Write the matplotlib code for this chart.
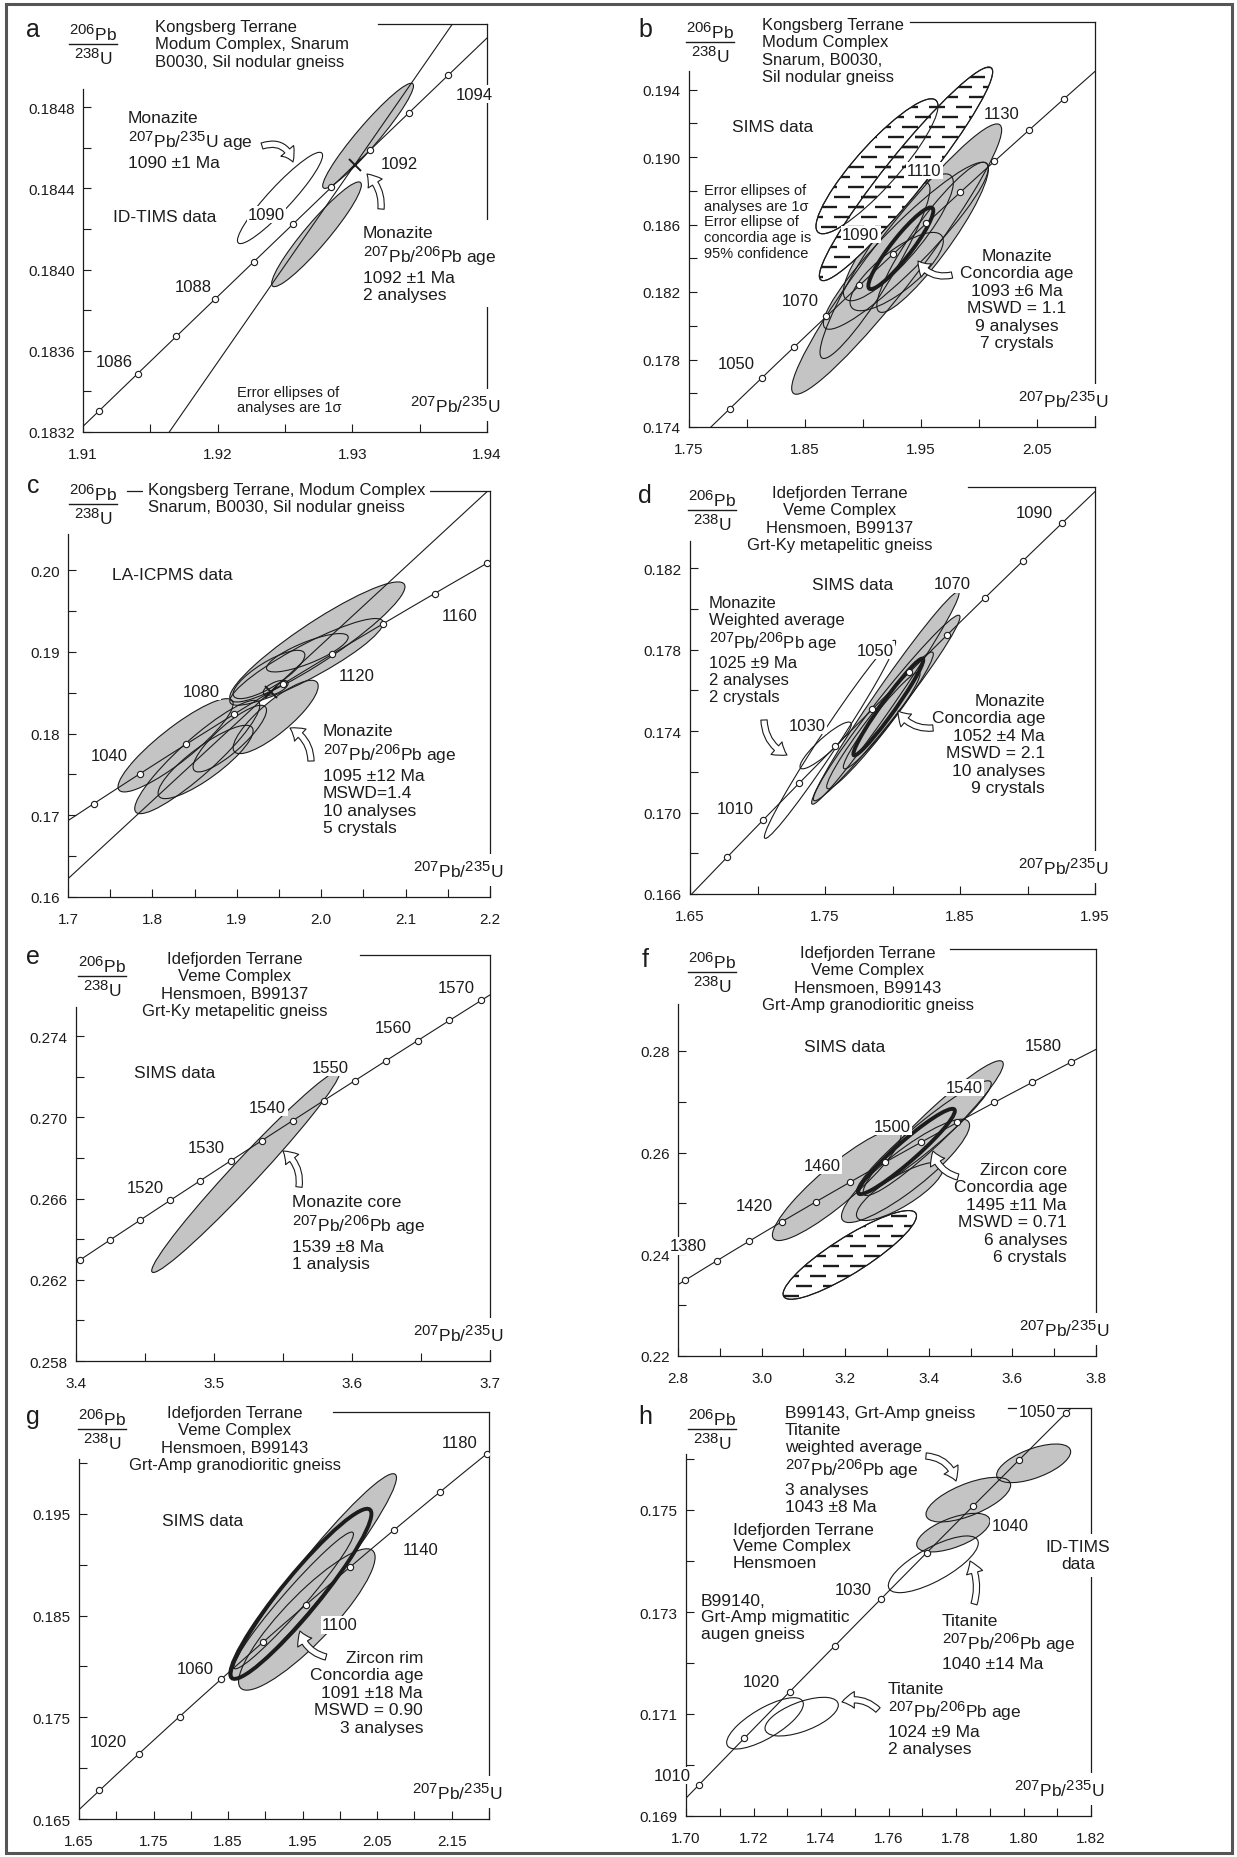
import numpy as np
import matplotlib
matplotlib.use("Agg")
import matplotlib.pyplot as plt
import matplotlib._mathtext as mathtext_internal
from matplotlib.patches import Circle, FancyArrowPatch, Rectangle
from matplotlib.transforms import Affine2D, IdentityTransform
from matplotlib.collections import LineCollection
from matplotlib.lines import Line2D
from matplotlib.ticker import FixedLocator, FormatStrFormatter

plt.rcParams['font.family'] = ['Liberation Sans', 'DejaVu Sans']
plt.rcParams['mathtext.fontset'] = 'custom'
plt.rcParams['mathtext.rm'] = 'Liberation Sans'
plt.rcParams['mathtext.it'] = 'Liberation Sans:italic'
plt.rcParams['mathtext.bf'] = 'Liberation Sans:bold'
# mass numbers are set nearly full size in the figure
mathtext_internal.SHRINK_FACTOR = 0.86

W, H = 1237, 1858
GREY = '#c4c4c4'
INK = '#1c1c1c'

# decay constants (1/yr)
L238 = 1.55125e-10
L235 = 9.8485e-10

P206 = r'$^{206}$Pb'
U238 = r'$^{238}$U'
XLAB = r'$^{207}$Pb/$^{235}$U'
PBPB = r'$^{207}$Pb/$^{206}$Pb age'

# ellipses: (207Pb/235U, 206Pb/238U, half-width x, half-width y, rho)

# a  ID-TIMS monazite
a_marks = [1085, 1086, 1087, 1088, 1089, 1090, 1091, 1092, 1093, 1094]
a_labels = [1086, 1088, 1090, 1092, 1094]
a_offs = [(-23, 12), (-22, 13), (-26, 10), (29, -14), (26, -19)]
a_grey = [(1.93117, 0.184659, 0.00337, 0.000259, 0.95),
          (1.92734, 0.184174, 0.00333, 0.000258, 0.94)]
a_open = [(1.92463, 0.184353, 0.00316, 0.000225, 0.93)]
a_pbpb = 1091.6

# b  SIMS monazite
b_marks = [1040, 1050, 1060, 1070, 1080, 1090, 1100, 1110, 1120, 1130, 1140]
b_labels = [1050, 1070, 1090, 1110, 1130]
b_offs = [(-25, 15), (-26, 16), (-32, 20), (-36, 22), (-27, 17)]
b_grey = [(1.92902, 0.18395, 0.0905, 0.00801, 0.955),
          (1.93693, 0.18474, 0.0711, 0.00495, 0.93),
          (1.96000, 0.18524, 0.0481, 0.00445, 0.91),
          (1.93046, 0.18524, 0.0474, 0.00376, 0.86),
          (1.92902, 0.18321, 0.0402, 0.00232, 0.78),
          (1.91034, 0.18326, 0.0474, 0.00520, 0.93)]
b_hatch = [(1.91207, 0.18945, 0.0526, 0.00400, 0.89),
           (1.93707, 0.18900, 0.0747, 0.00633, 0.955)]
b_bold = [(1.93261, 0.18459, 0.0280, 0.00242, 0.92)]

# c  LA-ICPMS monazite
c_marks = [1020, 1040, 1060, 1080, 1100, 1120, 1140, 1160, 1180]
c_labels = [1040, 1080, 1120, 1160]
c_offs = [(-30, 18), (-33, 23), (24, -21), (25, -22)]
c_grey = [(1.82747, 0.17857, 0.0682, 0.00571, 0.89),
          (1.85316, 0.17714, 0.0741, 0.00694, 0.91),
          (1.86304, 0.17653, 0.0563, 0.00449, 0.85),
          (1.99545, 0.19122, 0.1038, 0.00735, 0.92),
          (1.94605, 0.18204, 0.0504, 0.00449, 0.84),
          (1.98360, 0.18990, 0.0484, 0.00235, 0.80),
          (1.93814, 0.18724, 0.0425, 0.00296, 0.80),
          (1.94605, 0.18561, 0.0148, 0.00092, 0.60),
          (1.98261, 0.18878, 0.0909, 0.00531, 0.90),
          (1.89170, 0.17939, 0.0435, 0.00408, 0.85)]
c_pbpb = 1095

# d  SIMS monazite, B99137
d_marks = [1000, 1010, 1020, 1030, 1040, 1050, 1060, 1070, 1080, 1090]
d_labels = [1010, 1030, 1050, 1070, 1090]
d_offs = [(-28, 12), (-28, 21), (-34, 22), (-33, 14), (-28, 11)]
d_grey = [(1.79469, 0.17563, 0.0546, 0.00522, 0.985),
          (1.79568, 0.17514, 0.0543, 0.00456, 0.98),
          (1.79074, 0.17453, 0.0395, 0.00336, 0.97),
          (1.79198, 0.17453, 0.0284, 0.00238, 0.96)]
d_open = [(1.75370, 0.17360, 0.0486, 0.00487, 0.985),
          (1.75049, 0.17330, 0.0190, 0.00115, 0.90)]
d_bold = [(1.79691, 0.17519, 0.0259, 0.00238, 0.97)]

# e  SIMS monazite core
e_marks = [1505, 1510, 1515, 1520, 1525, 1530, 1535, 1540, 1545, 1550,
           1555, 1560, 1565, 1570]
e_labels = [1520, 1530, 1540, 1550, 1560, 1570]
e_offs = [(-25, 13)] * 6
e_grey = [(3.52295, 0.26732, 0.0681, 0.00496, 0.982)]

# f  SIMS zircon core, B99143
f_marks = [1360, 1380, 1400, 1420, 1440, 1460, 1480, 1500, 1520, 1540,
           1560, 1580]
f_labels = [1380, 1420, 1460, 1500, 1540, 1580]
f_offs = [(-28, 15), (-28, 16), (-28, 17), (-29, 16), (-30, 15), (-28, 17)]
f_grey = [(3.17989, 0.25364, 0.1540, 0.01095, 0.90),
          (3.34431, 0.25639, 0.1532, 0.01016, 0.88),
          (3.41053, 0.26479, 0.1676, 0.01325, 0.95),
          (3.38818, 0.26295, 0.1612, 0.01115, 0.95),
          (3.33072, 0.25233, 0.1038, 0.00571, 0.80)]
f_hatch = [(3.21101, 0.23987, 0.1596, 0.00872, 0.88)]
f_bold = [(3.34668, 0.26020, 0.1157, 0.00839, 0.95)]

# g  SIMS zircon rim
g_marks = [1000, 1020, 1040, 1060, 1080, 1100, 1120, 1140, 1160, 1180]
g_labels = [1020, 1060, 1100, 1140, 1180]
g_offs = [(-31, 12), (-26, 11), (34, -20), (26, -20), (-27, 12)]
g_grey = [(1.96546, 0.18887, 0.1104, 0.01007, 0.96),
          (1.95563, 0.18461, 0.0916, 0.00695, 0.88),
          (1.93776, 0.18648, 0.0804, 0.00672, 0.97)]
g_bold = [(1.94758, 0.18713, 0.0947, 0.00836, 0.94)]

# h  ID-TIMS titanite
h_marks = [1010, 1015, 1020, 1025, 1030, 1035, 1040, 1045, 1050]
h_labels = [1010, 1020, 1030, 1040, 1050]
h_offs = [(-27, 9), (-28, 10), (-27, 10), (37, -19), (-29, 2)]
h_grey = [(1.77921, 0.174556, 0.01086, 0.000379, 0.60),
          (1.78365, 0.175203, 0.01254, 0.000438, 0.65),
          (1.80301, 0.175915, 0.01096, 0.000379, 0.60)]
h_open = [(1.72341, 0.170817, 0.01136, 0.000503, 0.75),
          (1.73427, 0.170948, 0.01086, 0.000379, 0.60),
          (1.77328, 0.173935, 0.01333, 0.000556, 0.75)]


def fx(X):
    return X / W


def fy(Y):
    return 1 - Y / H


def conc(age):
    t = np.asarray(age, dtype=float) * 1e6
    return np.expm1(L235 * t), np.expm1(L238 * t)


fig = plt.figure(figsize=(W / 100, H / 100), dpi=100)
fig.add_artist(Rectangle((fx(6), fy(1854)), 1226 / W, 1849 / H,
                         transform=fig.transFigure, fill=False,
                         ec='#555555', lw=2.2))


def make_axes(box, xlim, ylim, xt, xm, yt, ym, xfmt, yfmt, ytop, top_from):
    L, R, B, T = box
    ax = fig.add_axes([L / W, 1 - B / H, (R - L) / W, (B - T) / H])
    ax.set_xlim(xlim)
    ax.set_ylim(ylim)
    ax.patch.set_alpha(0)
    ax.xaxis.set_major_locator(FixedLocator(xt))
    ax.xaxis.set_minor_locator(FixedLocator(xm))
    ax.yaxis.set_major_locator(FixedLocator(yt))
    ax.yaxis.set_minor_locator(FixedLocator([v for v in ym if v <= ytop]))
    ax.xaxis.set_major_formatter(FormatStrFormatter(xfmt))
    ax.yaxis.set_major_formatter(FormatStrFormatter(yfmt))
    ax.tick_params(which='both', direction='in', length=6, width=0.8,
                   colors=INK, labelsize=11)
    ax.tick_params(axis='x', which='major', pad=11)
    ax.tick_params(axis='y', which='major', pad=6)
    for s in ax.spines.values():
        s.set_linewidth(0.9)
        s.set_color(INK)
    ax.spines['left'].set_bounds(ylim[0], ytop)
    ax.spines['top'].set_bounds(xlim[0] + top_from * (xlim[1] - xlim[0]), xlim[1])
    return ax


def ellipse(ax, e, **kw):
    cx, cy, sx, sy, rho = e
    m = Affine2D(np.array([[sx, 0, cx],
                           [rho * sy, np.sqrt(1 - rho ** 2) * sy, cy],
                           [0, 0, 1]]))
    p = Circle((0, 0), 1, transform=m + ax.transData, **kw)
    ax.add_patch(p)
    return p


def dash_fill(ax, patch):
    # dashed horizontal texture, clipped to the ellipse
    bb = ax.bbox
    segs = []
    for k, yy in enumerate(np.arange(bb.y0, bb.y1, 10)):
        shift = 13 if k % 2 else 0
        for xx in np.arange(bb.x0 - 30 + shift, bb.x1, 27):
            segs.append([(xx, yy), (xx + 16, yy)])
    lc = LineCollection(segs, colors=INK, linewidths=1.7,
                        transform=IdentityTransform(), zorder=1.65)
    lc.set_clip_path(patch)
    ax.add_collection(lc, autolim=False)


def draw_ellipses(ax, grey=(), hatch=(), open_=(), bold=()):
    for e in grey:
        ellipse(ax, e, fc=GREY, ec='none', zorder=1)
    for e in grey:
        ellipse(ax, e, fc='none', ec=INK, lw=0.8, zorder=1.5)
    for e in hatch:
        p = ellipse(ax, e, fc='white', ec=INK, lw=0.8, zorder=1.6)
        dash_fill(ax, p)
        ellipse(ax, e, fc='none', ec=INK, lw=0.8, zorder=1.7)
    for e in open_:
        ellipse(ax, e, fc='none', ec=INK, lw=0.8, zorder=1.7)
    for e in bold:
        ellipse(ax, e, fc='none', ec=INK, lw=2.8, zorder=2.5)


def draw_concordia(ax, span, marks, labels, offs):
    x, y = conc(np.linspace(span[0], span[1], 400))
    ax.plot(x, y, color=INK, lw=0.8, zorder=3)
    mx, my = conc(marks)
    ax.plot(mx, my, 'o', ms=4.5, mfc='white', mec=INK, mew=0.8, zorder=4)
    for age, (dx, dy) in zip(labels, offs):
        ax.annotate(str(age), conc(age), xytext=(dx, dy),
                    textcoords='offset pixels', ha='center', va='center',
                    fontsize=12, color=INK, zorder=5,
                    bbox=dict(boxstyle='square,pad=0.08', fc='white', ec='none'))


def pbpb_line(ax, age):
    ax.axline((0, 0), conc(age), color=INK, lw=0.8, zorder=3)
    px, py = conc(age)
    ax.plot([px], [py], marker='x', ms=9, mew=1.4, color=INK, zorder=4)


def put(X, Y, s, ha='left', va='top', size=12, box=False, ls=1.2):
    kw = {}
    if box:
        kw['bbox'] = dict(boxstyle='square,pad=0.3', fc='white', ec='none')
    fig.text(fx(X), fy(Y), s, ha=ha, va=va, fontsize=size, color=INK,
             linespacing=ls, multialignment=ha if ha != 'center' else 'center',
             zorder=6, **kw)


def frame_labels(letter, lx, ly, fxp, fyp, R, B):
    fig.text(fx(lx), fy(ly), letter, ha='center', va='center', fontsize=18,
             color=INK)
    fig.text(fx(fxp), fy(fyp - 1), P206, ha='center', va='bottom',
             fontsize=12.5, color=INK)
    fig.text(fx(fxp), fy(fyp + 2), U238, ha='center', va='top',
             fontsize=12.5, color=INK)
    fig.add_artist(Line2D([fx(fxp - 24), fx(fxp + 24)], [fy(fyp), fy(fyp)],
                          transform=fig.transFigure, color=INK, lw=1.0))
    put(R + 13, B - 27, XLAB, ha='right', va='center', size=12.5, box=True)


def arrow(X0, Y0, X1, Y1, rad):
    fig.add_artist(FancyArrowPatch(
        (fx(X0), fy(Y0)), (fx(X1), fy(Y1)), transform=fig.transFigure,
        arrowstyle='simple,head_length=9,head_width=12,tail_width=4.5',
        connectionstyle='arc3,rad=%s' % rad, mutation_scale=1,
        shrinkA=0, shrinkB=0, fc='white', ec=INK, lw=0.8, zorder=7))


# ---------------- a
ax = make_axes((83, 487, 433, 25), (1.91, 1.94), (0.1832, 0.18521),
               [1.91, 1.92, 1.93, 1.94], [1.915, 1.925, 1.935],
               [0.1832, 0.1836, 0.1840, 0.1844, 0.1848],
               [0.1834, 0.1838, 0.1842, 0.1846],
               '%.2f', '%.4f', 0.18489, 0.73)
draw_ellipses(ax, grey=a_grey, open_=a_open)
draw_concordia(ax, (1080, 1100), a_marks, a_labels, a_offs)
pbpb_line(ax, a_pbpb)
frame_labels('a', 33, 30, 93, 45, 487, 433)
put(155, 20, 'Kongsberg Terrane\nModum Complex, Snarum\nB0030, Sil nodular gneiss')
put(128, 111, 'Monazite\n' + r'$^{207}$Pb/$^{235}$U age' + '\n1090 \u00b11 Ma', size=12.5)
put(113, 217, 'ID-TIMS data', va='center', size=12.5)
put(363, 226, 'Monazite\n' + PBPB + '\n1092 \u00b11 Ma\n2 analyses', size=12.5, box=True)
put(237, 386, 'Error ellipses of\nanalyses are 1\u03c3', size=10.5, ls=1.1)
arrow(262, 147, 293, 163, -0.5)
arrow(381, 210, 367, 175, 0.25)

# ---------------- b
ax = make_axes((689, 1095, 428, 23), (1.75, 2.10), (0.174, 0.198),
               [1.75, 1.85, 1.95, 2.05], [1.80, 1.90, 2.00, 2.10],
               [0.174, 0.178, 0.182, 0.186, 0.190, 0.194],
               [0.176, 0.180, 0.184, 0.188, 0.192],
               '%.2f', '%.3f', 0.1951, 0.544)
draw_ellipses(ax, grey=b_grey, hatch=b_hatch, bold=b_bold)
draw_concordia(ax, (1000, 1200), b_marks, b_labels, b_offs)
frame_labels('b', 645, 30, 710, 43, 1095, 428)
put(762, 18, 'Kongsberg Terrane\nModum Complex\nSnarum, B0030,\nSil nodular gneiss')
put(732, 128, 'SIMS data', va='center', size=12.5)
put(704, 184, 'Error ellipses of\nanalyses are 1\u03c3\nError ellipse of\nconcordia age is\n95% confidence',
    size=10.5, ls=1.15)
put(1017, 249, 'Monazite\nConcordia age\n1093 \u00b16 Ma\nMSWD = 1.1\n9 analyses\n7 crystals',
    ha='center', size=12.5)
arrow(952, 276, 918, 262, -0.35)

# ---------------- c
ax = make_axes((68, 490, 898, 492), (1.7, 2.2), (0.16, 0.2097),
               [1.7, 1.8, 1.9, 2.0, 2.1, 2.2], [1.75, 1.85, 1.95, 2.05, 2.15],
               [0.16, 0.17, 0.18, 0.19, 0.20], [0.165, 0.175, 0.185, 0.195],
               '%.1f', '%.2f', 0.2044, 0.14)
draw_ellipses(ax, grey=c_grey)
draw_concordia(ax, (950, 1250), c_marks, c_labels, c_offs)
pbpb_line(ax, c_pbpb)
frame_labels('c', 33, 486, 93, 505, 490, 898)
put(148, 483, 'Kongsberg Terrane, Modum Complex\nSnarum, B0030, Sil nodular gneiss', box=True)
put(112, 575, 'LA-ICPMS data', va='center', size=12.5)
put(323, 724, 'Monazite\n' + PBPB + '\n1095 \u00b112 Ma\nMSWD=1.4\n10 analyses\n5 crystals', size=12.5)
arrow(311, 762, 290, 729, 0.3)

# ---------------- d
ax = make_axes((690, 1095, 895, 488), (1.65, 1.95), (0.166, 0.186),
               [1.65, 1.75, 1.85, 1.95], [1.70, 1.80, 1.90],
               [0.166, 0.170, 0.174, 0.178, 0.182],
               [0.168, 0.172, 0.176, 0.180],
               '%.2f', '%.3f', 0.18337, 0.686)
draw_ellipses(ax, grey=d_grey, open_=d_open, bold=d_bold)
draw_concordia(ax, (950, 1150), d_marks, d_labels, d_offs)
frame_labels('d', 645, 496, 712, 511, 1095, 895)
put(840, 486, 'Idefjorden Terrane\nVeme Complex\nHensmoen, B99137\nGrt-Ky metapelitic gneiss', ha='center')
put(853, 585, 'SIMS data', ha='center', va='center', size=12.5)
put(709, 596, 'Monazite\nWeighted average\n' + PBPB + '\n1025 \u00b19 Ma\n2 analyses\n2 crystals',
    size=12, ls=1.15)
put(1045, 694, 'Monazite\nConcordia age\n1052 \u00b14 Ma\nMSWD = 2.1\n10 analyses\n9 crystals',
    ha='right', size=12.5)
arrow(764, 721, 787, 756, 0.3)
arrow(933, 729, 898, 712, -0.3)

# ---------------- e
ax = make_axes((76, 490, 1362, 956), (3.4, 3.7), (0.258, 0.278),
               [3.4, 3.5, 3.6, 3.7], [3.45, 3.55, 3.65],
               [0.258, 0.262, 0.266, 0.270, 0.274],
               [0.260, 0.264, 0.268, 0.272],
               '%.1f', '%.3f', 0.27545, 0.686)
draw_ellipses(ax, grey=e_grey)
draw_concordia(ax, (1480, 1600), e_marks, e_labels, e_offs)
frame_labels('e', 33, 957, 102, 977, 490, 1362)
put(235, 952, 'Idefjorden Terrane\nVeme Complex\nHensmoen, B99137\nGrt-Ky metapelitic gneiss', ha='center')
put(175, 1073, 'SIMS data', ha='center', va='center', size=12.5)
put(292, 1195, 'Monazite core\n' + PBPB + '\n1539 \u00b18 Ma\n1 analysis', size=12.5)
arrow(299, 1188, 283, 1152, 0.3)

# ---------------- f
ax = make_axes((678, 1096, 1357, 950), (2.8, 3.8), (0.22, 0.30),
               [2.8, 3.0, 3.2, 3.4, 3.6, 3.8], [2.9, 3.1, 3.3, 3.5, 3.7],
               [0.22, 0.24, 0.26, 0.28], [0.23, 0.25, 0.27],
               '%.1f', '%.2f', 0.2892, 0.651)
draw_ellipses(ax, grey=f_grey, hatch=f_hatch, bold=f_bold)
draw_concordia(ax, (1300, 1650), f_marks, f_labels, f_offs)
frame_labels('f', 645, 960, 712, 973, 1096, 1357)
put(868, 946, 'Idefjorden Terrane\nVeme Complex\nHensmoen, B99143\nGrt-Amp granodioritic gneiss', ha='center')
put(845, 1048, 'SIMS data', ha='center', va='center', size=12.5)
put(1067, 1163, 'Zircon core\nConcordia age\n1495 \u00b111 Ma\nMSWD = 0.71\n6 analyses\n6 crystals',
    ha='right', size=12.5)
arrow(958, 1178, 933, 1152, -0.3)

# ---------------- g
ax = make_axes((79, 489, 1820, 1413), (1.65, 2.20), (0.165, 0.205),
               [1.65, 1.75, 1.85, 1.95, 2.05, 2.15],
               [1.70, 1.80, 1.90, 2.00, 2.10, 2.20],
               [0.165, 0.175, 0.185, 0.195], [0.170, 0.180, 0.190, 0.200],
               '%.2f', '%.3f', 0.2004, 0.62)
draw_ellipses(ax, grey=g_grey, bold=g_bold)
draw_concordia(ax, (950, 1250), g_marks, g_labels, g_offs)
frame_labels('g', 33, 1417, 102, 1430, 489, 1820)
put(235, 1406, 'Idefjorden Terrane\nVeme Complex\nHensmoen, B99143\nGrt-Amp granodioritic gneiss', ha='center')
put(203, 1522, 'SIMS data', ha='center', va='center', size=12.5)
put(423, 1651, 'Zircon rim\nConcordia age\n1091 \u00b118 Ma\nMSWD = 0.90\n3 analyses',
    ha='right', size=12.5)
arrow(326, 1658, 300, 1632, -0.3)

# ---------------- h
ax = make_axes((686, 1091, 1817, 1409), (1.70, 1.82), (0.169, 0.177),
               [1.70, 1.72, 1.74, 1.76, 1.78, 1.80, 1.82],
               [1.71, 1.73, 1.75, 1.77, 1.79, 1.81],
               [0.169, 0.171, 0.173, 0.175], [0.170, 0.172, 0.174, 0.176],
               '%.2f', '%.3f', 0.1761, 0.795)
draw_ellipses(ax, grey=h_grey, open_=h_open)
draw_concordia(ax, (1000, 1060), h_marks, h_labels, h_offs)
frame_labels('h', 645, 1417, 712, 1430, 1091, 1817)
put(785, 1406, 'B99143, Grt-Amp gneiss\nTitanite\nweighted average\n' + PBPB +
    '\n3 analyses\n1043 \u00b18 Ma', size=12.5, ls=1.15)
put(733, 1523, 'Idefjorden Terrane\nVeme Complex\nHensmoen', size=12.5, ls=1.12)
put(701, 1594, 'B99140,\nGrt-Amp migmatitic\naugen gneiss', size=12.5, ls=1.12)
put(1078, 1540, 'ID-TIMS\ndata', ha='center', size=12.5, box=True)
put(942, 1614, 'Titanite\n' + PBPB + '\n1040 \u00b114 Ma', size=12.5, ls=1.15)
put(888, 1682, 'Titanite\n' + PBPB + '\n1024 \u00b19 Ma\n2 analyses', size=12.5, ls=1.15)
arrow(926, 1457, 956, 1482, -0.35)
arrow(974, 1605, 970, 1562, 0.2)
arrow(878, 1711, 842, 1703, 0.3)

fig.savefig('out.png', dpi=100)
